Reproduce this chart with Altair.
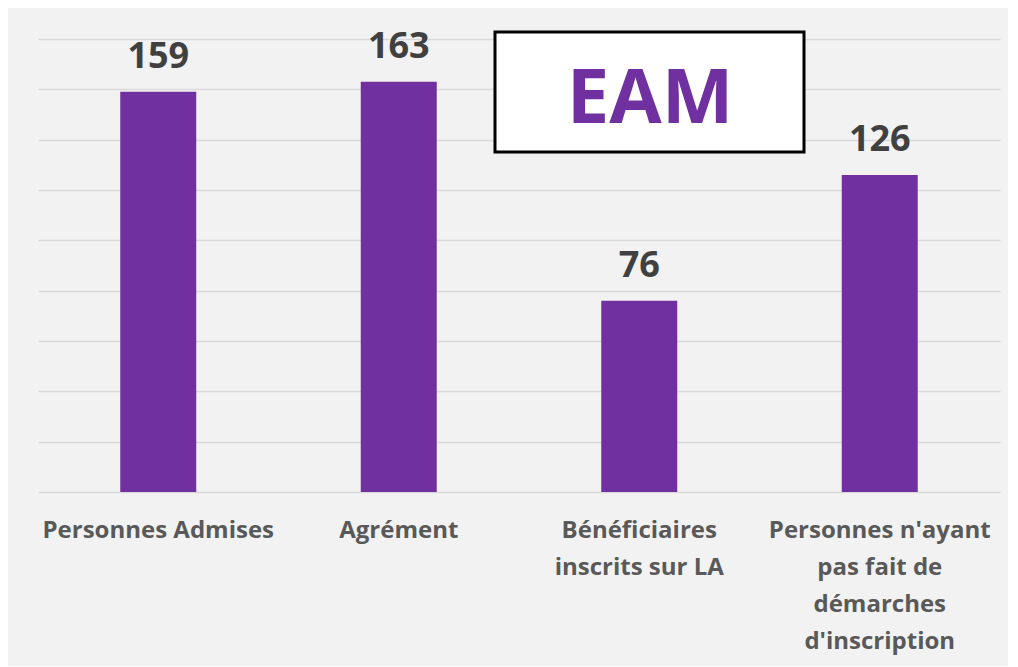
import altair as alt
import pandas as pd

categories = [
    "Personnes Admises",
    "Agrément",
    "Bénéficiaires|inscrits sur LA",
    "Personnes n'ayant|pas fait de|démarches|d'inscription",
]
values = [159, 163, 76, 126]
box_title = "EAM"

df = pd.DataFrame({"cat": categories, "val": values})

PURPLE = "#7030a0"
FONT = "Open Sans"

x = alt.X(
    "cat:N",
    sort=categories,
    title=None,
    scale=alt.Scale(paddingInner=0, paddingOuter=0),
    axis=alt.Axis(
        labelExpr="split(datum.label, '|')",
        labelAngle=0,
        labelFont=FONT,
        labelFontWeight="bold",
        labelFontSize=24,
        labelColor="#595959",
        labelLineHeight=37,
        labelPadding=26,
        labelLimit=400,
        domain=False,
        ticks=False,
        grid=False,
    ),
)
y = alt.Y(
    "val:Q",
    title=None,
    scale=alt.Scale(domain=[0, 180], nice=False),
    axis=alt.Axis(
        values=list(range(0, 181, 20)),
        labels=False,
        ticks=False,
        domain=False,
        grid=True,
        gridColor="#d9d9d9",
        gridWidth=1.5,
    ),
)

bars = alt.Chart(df).mark_bar(color=PURPLE, size=76).encode(x=x, y=y)
labels = alt.Chart(df).mark_text(
    font=FONT, fontWeight="bold", fontSize=36, color="#404040",
    baseline="alphabetic", dy=-24,
).encode(x=alt.X("cat:N", sort=categories), y="val:Q", text="val:Q")

box = alt.Chart(pd.DataFrame({"t": [box_title]})).mark_rect(
    fill="white", stroke="black", strokeWidth=3
).encode(
    x=alt.value(457), x2=alt.value(766), y=alt.value(-7), y2=alt.value(113)
)
box_text = alt.Chart(pd.DataFrame({"t": [box_title]})).mark_text(
    font=FONT, fontWeight="bold", fontSize=76, color=PURPLE,
    baseline="alphabetic", align="center",
).encode(x=alt.value(612), y=alt.value(84), text="t:N")

chart = alt.layer(bars, labels, box, box_text).properties(
    width=962,
    height=453,
    autosize=alt.AutoSizeParams(type="none"),
    padding={"left": 30, "top": 31, "right": 8, "bottom": 174},
    background="#f2f2f2",
).configure_view(stroke=None)

chart.save("out.html", embed_options={"renderer": "svg", "actions": False})
